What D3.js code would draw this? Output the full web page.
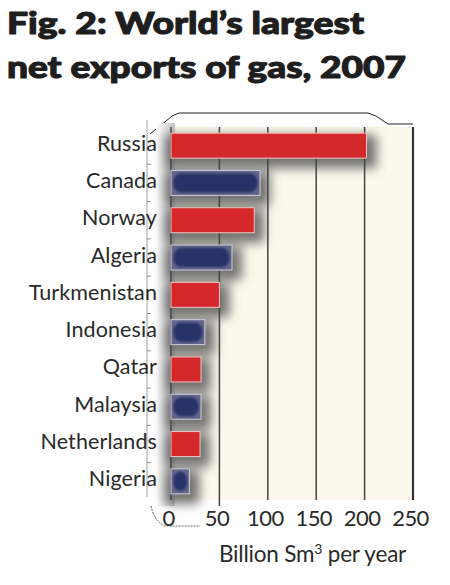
<!DOCTYPE html>
<html>
<head>
<meta charset="utf-8">
<script src="https://cdn.jsdelivr.net/npm/d3@7/dist/d3.min.js"></script>
<style>
  html, body { margin: 0; padding: 0; background: #ffffff; }
  svg { display: block; }
</style>
</head>
<body>
<svg id="chart" width="450" height="585"></svg>
<script>
// ---- data ----
const categories = ["Russia", "Canada", "Norway", "Algeria", "Turkmenistan",
                    "Indonesia", "Qatar", "Malaysia", "Netherlands", "Nigeria"];
const values = [202, 92, 86, 63, 50, 35, 31, 31, 30, 19];
const xTicks = [0, 50, 100, 150, 200, 250];
const titleLines = ["Fig. 2: World\u2019s largest", "net exports of gas, 2007"];
const axisTitle = ["Billion Sm", "3", " per year"];

// ---- layout ----
const W = 450, H = 585;
const plot = { left: 171, right: 413, top: 127, bottom: 500 };

const svg = d3.select("#chart");
const defs = svg.append("defs");

defs.append("filter").attr("id", "shadow")
  .attr("x", "-30%").attr("y", "-80%").attr("width", "160%").attr("height", "260%")
  .append("feGaussianBlur").attr("stdDeviation", 5.5);
defs.append("filter").attr("id", "soft")
  .append("feGaussianBlur").attr("stdDeviation", 1.2);

const lg = defs.append("linearGradient").attr("id", "leftShade")
  .attr("x1", "0").attr("x2", "1").attr("y1", "0").attr("y2", "0");
lg.append("stop").attr("offset", "0%").attr("stop-color", "#ffffff");
lg.append("stop").attr("offset", "100%").attr("stop-color", "#c4c4c4");

const x = d3.scaleLinear().domain([0, 250]).range([plot.left, plot.right]);
const y = d3.scaleBand().domain(categories).range([plot.top, plot.bottom])
  .paddingInner(0.33).paddingOuter(0.165);
const kind = d3.scaleOrdinal().domain([0, 1]).range(["red", "blue"]);

// ---- title ----
svg.append("g").selectAll("text").data(titleLines).join("text")
  .attr("x", 7)
  .attr("y", (d, i) => 34 + i * 44)
  .attr("font-family", "Lato, 'Open Sans', sans-serif")
  .attr("font-weight", 900)
  .attr("font-size", 31)
  .attr("fill", "#1e1e1e")
  .attr("stroke", "#1e1e1e")
  .attr("stroke-width", 1.1)
  .attr("stroke-linejoin", "round")
  .attr("textLength", (d, i) => i === 0 ? 357 : 399)
  .attr("lengthAdjust", "spacingAndGlyphs")
  .text(d => d);

// ---- frame decoration ----
const frame = d3.path();
frame.moveTo(150, 134);
frame.lineTo(156, 129); frame.lineTo(160, 126); frame.lineTo(166, 121);
frame.lineTo(172, 116); frame.lineTo(179, 113);
frame.lineTo(368, 113); frame.lineTo(376, 116); frame.lineTo(382, 120);
frame.lineTo(388, 124); frame.lineTo(413, 124);
svg.append("path").attr("d", frame.toString())
  .attr("fill", "none").attr("stroke", "#222").attr("stroke-width", 1);

const bl = d3.path();
bl.moveTo(151, 506); bl.quadraticCurveTo(154, 520, 164, 526); bl.lineTo(200, 526);
svg.append("path").attr("d", bl.toString())
  .attr("fill", "none").attr("stroke", "#444").attr("stroke-width", 0.8)
  .attr("stroke-dasharray", "2,1");

// ---- plot background ----
svg.append("rect")
  .attr("x", plot.left).attr("y", plot.top)
  .attr("width", plot.right - plot.left).attr("height", plot.bottom - plot.top)
  .attr("fill", "#fcf9ec");
svg.append("rect")
  .attr("x", 156).attr("y", plot.top - 4)
  .attr("width", plot.left - 156 + 4).attr("height", plot.bottom - plot.top + 10)
  .attr("fill", "url(#leftShade)");

// ---- y axis guide line with ticks ----
const yAxisG = svg.append("g");
yAxisG.append("line")
  .attr("x1", 147).attr("x2", 147).attr("y1", 120).attr("y2", 497)
  .attr("stroke", "#888").attr("stroke-width", 0.8);
const bounds = categories.slice(1).map(c => y(c) - (y.step() - y.bandwidth()) / 2);
yAxisG.selectAll("line.tk").data(bounds).join("line").attr("class", "tk")
  .attr("x1", 147).attr("x2", 151).attr("y1", d => d).attr("y2", d => d)
  .attr("stroke", "#777").attr("stroke-width", 0.8);

// ---- bar shadows ----
svg.append("g").attr("filter", "url(#shadow)")
  .selectAll("rect").data(categories).join("rect")
  .attr("x", x(0) - 6)
  .attr("y", d => y(d) + 2)
  .attr("width", (d, i) => x(values[i]) - x(0) + 16)
  .attr("height", y.bandwidth() + 8)
  .attr("fill", "#5a5a5a").attr("opacity", 0.85);

// ---- gridlines ----
svg.append("g").selectAll("line").data(xTicks).join("line")
  .attr("x1", d => x(d)).attr("x2", d => x(d))
  .attr("y1", plot.top).attr("y2", d => d === 50 ? plot.bottom + 6 : plot.bottom)
  .attr("stroke", d => d === 250 ? "#333" : "#444")
  .attr("stroke-width", d => d === 250 ? 2.2 : 1.5);

// ---- bars ----
const bars = svg.append("g");
categories.forEach((c, i) => {
  const x0 = x(0), w = x(values[i]) - x(0), y0 = y(c), h = y.bandwidth();
  if (kind(i % 2) === "red") {
    bars.append("rect")
      .attr("x", x0).attr("y", y0).attr("width", w).attr("height", h)
      .attr("fill", "#d4282a").attr("stroke", "#f2c4c4").attr("stroke-width", 1);
  } else {
    bars.append("rect")
      .attr("x", x0).attr("y", y0).attr("width", w).attr("height", h)
      .attr("fill", "#62668a").attr("stroke", "#cfd0dc").attr("stroke-width", 1);
    bars.append("rect")
      .attr("x", x0 + 2.5).attr("y", y0 + 3).attr("width", Math.max(w - 5, 0)).attr("height", h - 6)
      .attr("rx", Math.min(8, (w - 5) / 2)).attr("ry", 8)
      .attr("fill", "#273167").attr("filter", "url(#soft)");
  }
});

// ---- category labels ----
svg.append("g").selectAll("text").data(categories).join("text")
  .attr("x", 157)
  .attr("y", d => y(d) + y.bandwidth() / 2 + 5)
  .attr("text-anchor", "end")
  .attr("font-family", "Lato, sans-serif")
  .attr("font-size", 21.5)
  .attr("letter-spacing", 0.1)
  .attr("fill", "#2a2a2a")
  .text(d => d);

// ---- x axis labels ----
const xAxis = d3.axisBottom(x).tickValues(xTicks).tickSize(0).tickPadding(0);
const gx = svg.append("g").attr("transform", `translate(-3, ${plot.bottom + 10})`).call(xAxis);
gx.select(".domain").remove();
gx.selectAll("text")
  .attr("dy", 0).attr("y", 16)
  .attr("font-family", "Lato, sans-serif")
  .attr("font-size", 22)
  .attr("letter-spacing", -0.6)
  .attr("fill", "#2a2a2a");

// ---- axis title ----
const at = svg.append("text")
  .attr("x", 219).attr("y", 562)
  .attr("font-family", "Lato, sans-serif")
  .attr("font-size", 22.5)
  .attr("letter-spacing", -0.2)
  .attr("fill", "#2a2a2a");
at.append("tspan").text(axisTitle[0]);
at.append("tspan").attr("dy", -8).attr("font-size", 14).text(axisTitle[1]);
at.append("tspan").attr("dy", 8).text(axisTitle[2]);
</script>
</body>
</html>
